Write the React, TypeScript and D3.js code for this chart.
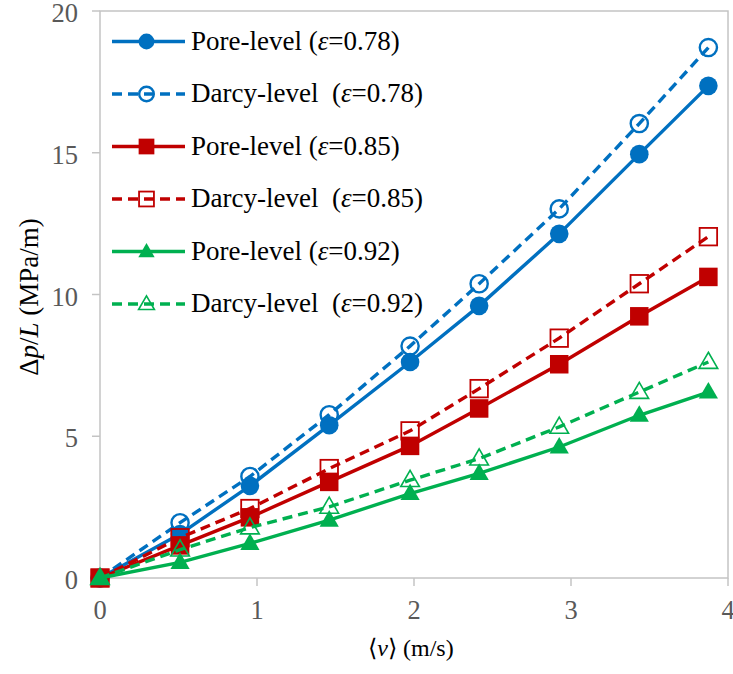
import React from "react";
import * as d3 from "d3";

const velocities = [0, 0.51, 0.955, 1.46, 1.975, 2.415, 2.925, 3.435, 3.875];
const pore078 = [0, 1.55, 3.25, 5.39, 7.62, 9.6, 12.14, 14.95, 17.36];
const darcy078 = [0, 1.95, 3.58, 5.76, 8.18, 10.38, 13.02, 16.03, 18.71];
const pore085 = [0, 1.15, 2.14, 3.39, 4.66, 5.98, 7.54, 9.23, 10.62];
const darcy085 = [0, 1.42, 2.45, 3.86, 5.19, 6.68, 8.46, 10.38, 12.04];
const pore092 = [0, 0.55, 1.22, 2.04, 2.98, 3.69, 4.62, 5.74, 6.56];
const darcy092 = [0, 1.0, 1.78, 2.51, 3.45, 4.21, 5.33, 6.56, 7.62];

const xTicks = [0, 1, 2, 3, 4];
const yTicks = [0, 5, 10, 15, 20];

type Shape = "circle" | "square" | "triangle";
interface Series {
  kind: string;
  eps: string;
  values: number[];
  color: string;
  dashed: boolean;
  shape: Shape;
  filled: boolean;
}

const seriesList: Series[] = [
  { kind: "Pore-level", eps: "0.78", values: pore078, color: "#0070C0", dashed: false, shape: "circle", filled: true },
  { kind: "Darcy-level\u00A0", eps: "0.78", values: darcy078, color: "#0070C0", dashed: true, shape: "circle", filled: false },
  { kind: "Pore-level", eps: "0.85", values: pore085, color: "#C00000", dashed: false, shape: "square", filled: true },
  { kind: "Darcy-level\u00A0", eps: "0.85", values: darcy085, color: "#C00000", dashed: true, shape: "square", filled: false },
  { kind: "Pore-level", eps: "0.92", values: pore092, color: "#00B050", dashed: false, shape: "triangle", filled: true },
  { kind: "Darcy-level\u00A0", eps: "0.92", values: darcy092, color: "#00B050", dashed: true, shape: "triangle", filled: false },
];

const left = 100;
const right = 728;
const top = 11;
const bottom = 578;
const DASH = "10,6";
const FONT_TICK_Y = "Times New Roman";
const FONT_TICK_X = "Tinos";
const FONT_LEGEND = '"Liberation Serif"';
const FONT_TITLE = "Nimbus Roman";

function Marker({ s, x, y, k = 1 }: { s: Series; x: number; y: number; k?: number }) {
  const fill = s.filled ? s.color : "none";
  if (s.shape === "circle") {
    return <circle cx={x} cy={y} r={(s.filled ? 9.3 : 8.6) * k} fill={fill} stroke={s.color} strokeWidth={s.filled ? 0 : 2.4} />;
  }
  if (s.shape === "square") {
    const a = (s.filled ? 18.5 : 17.5) * k;
    return <rect x={x - a / 2} y={y - a / 2} width={a} height={a} fill={fill} stroke={s.color} strokeWidth={s.filled ? 0 : 1.8} />;
  }
  const sym = d3.symbol().type(d3.symbolTriangle).size((s.filled ? 160 : 150) * k * k)();
  return <path d={sym || ""} transform={`translate(${x},${y + 1})`} fill={fill} stroke={s.color} strokeWidth={s.filled ? 0 : 1.6} />;
}

export default function App() {
  const x = d3.scaleLinear().domain([0, 4]).range([left, right]);
  const y = d3.scaleLinear().domain([0, 20]).range([bottom, top]);
  const line = d3
    .line<number>()
    .x((_, i) => x(velocities[i]))
    .y((d) => y(d));

  const legendRows = seriesList.map((_, i) => 41.5 + 52.5 * i);

  return (
    <div style={{ position: "absolute", left: 0, top: 0 }}>
      <svg width={733} height={674}>
        <rect x={left} y={top} width={right - left} height={bottom - top} fill="none" stroke="#C4C4C4" strokeWidth={1.5} />
        {yTicks.map((t) => (
          <g key={"y" + t}>
            <line x1={left - 8} x2={left} y1={y(t)} y2={y(t)} stroke="#C4C4C4" strokeWidth={1.5} />
            <text x={78} y={y(t) + 11} textAnchor="end" fontSize={26.5} fill="#595959" fontFamily={FONT_TICK_Y}>
              {t}
            </text>
          </g>
        ))}
        {xTicks.map((t) => (
          <g key={"x" + t}>
            <line x1={x(t)} x2={x(t)} y1={bottom} y2={bottom + 8} stroke="#C4C4C4" strokeWidth={1.5} />
            <text x={x(t)} y={619} textAnchor="middle" fontSize={26.5} fill="#595959" fontFamily={FONT_TICK_X}>
              {t}
            </text>
          </g>
        ))}
        <text x={411} y={656} textAnchor="middle" fontSize={24} fill="#000" fontFamily={FONT_TITLE}>
          ⟨<tspan fontStyle="italic">v</tspan>⟩ (m/s)
        </text>
        <text transform={`translate(38,297) rotate(-90)`} textAnchor="middle" fontSize={27} fill="#000" fontFamily={FONT_TITLE}>
          Δ<tspan fontStyle="italic">p</tspan>/<tspan fontStyle="italic">L</tspan> (MPa/m)
        </text>
        {seriesList.map((s, si) => (
          <g key={"s" + si}>
            <path
              d={line(s.values) || ""}
              fill="none"
              stroke={s.color}
              strokeWidth={3.4}
              strokeDasharray={s.dashed ? DASH : undefined}
            />
            {s.values.map((v, i) => (
              <Marker key={i} s={s} x={x(velocities[i])} y={y(v)} />
            ))}
          </g>
        ))}
        {seriesList.map((s, si) => {
          const ry = legendRows[si];
          return (
            <g key={"l" + si}>
              <line x1={112} x2={185} y1={ry} y2={ry} stroke={s.color} strokeWidth={3.4} strokeDasharray={s.dashed ? DASH : undefined} />
              <Marker s={s} x={146.5} y={ry} k={0.85} />
              <text x={191} y={ry + 8} fontSize={27} fill="#000" style={{ fontFamily: FONT_LEGEND }}>
                {s.kind + " ("}
                <tspan fontStyle="italic">ε</tspan>
                {"=" + s.eps + ")"}
              </text>
            </g>
          );
        })}
      </svg>
    </div>
  );
}
